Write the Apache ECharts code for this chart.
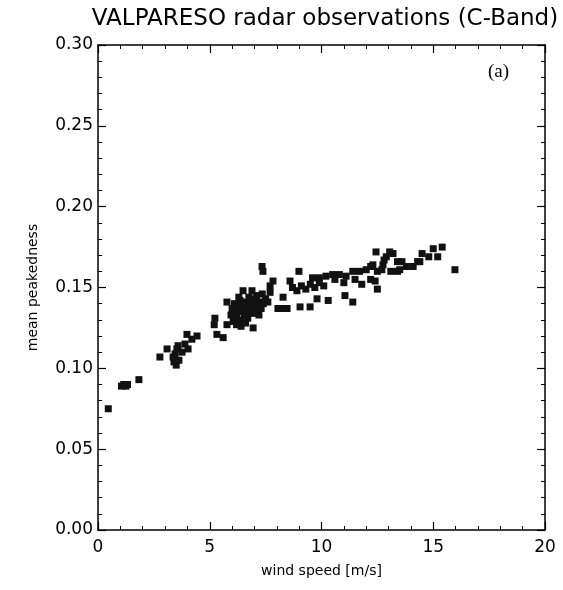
<!DOCTYPE html>
<html>
<head>
<meta charset="utf-8">
<script src="https://cdn.jsdelivr.net/npm/echarts@6/dist/echarts.min.js"></script>
<style>
html,body{margin:0;padding:0;background:#fff;}
#chart{width:563px;height:590px;}
</style>
</head>
<body>
<div id="chart"></div>
<script>
const titleText = "VALPARESO radar observations (C-Band)";
const xAxisName = "wind speed [m/s]";
const yAxisName = "mean peakedness";
const panelLabel = "(a)";

const windSpeed = [
  0.46,
  1.05, 1.15, 1.25, 1.32,
  1.83,
  2.77, 3.09,
  3.36, 3.45, 3.53, 3.58, 3.76, 3.89, 4.03, 3.40, 3.50, 3.62,
  3.98, 4.20, 4.43,
  5.23, 5.20, 5.32, 5.60, 5.77, 5.77,
  5.95, 6.00, 6.05, 6.10, 6.15, 6.20, 6.25, 6.30, 6.35, 6.40,
  6.45, 6.50, 6.55, 6.60, 6.65, 6.70, 6.75, 6.80, 6.85, 6.90,
  6.95, 7.00, 7.05, 7.10, 7.15, 7.20, 7.25, 7.30, 7.35, 7.40,
  7.50, 7.60, 7.70, 6.20, 6.40, 6.60, 6.30, 6.90,
  6.49, 6.89, 7.34, 7.38, 6.94, 7.83, 7.70,
  8.28, 8.05, 8.23, 8.46, 8.59, 8.99,
  8.70, 8.90, 9.10, 9.30, 9.50, 9.70, 9.90, 10.10,
  9.04, 9.49, 9.80, 10.30,
  9.60, 9.90, 10.20, 10.50, 10.80, 11.10, 11.40, 11.70,
  11.05, 11.40,
  12.00, 12.20, 12.30, 12.50, 12.70, 12.75,
  12.20, 12.40, 12.50, 12.80, 12.90, 12.44, 13.05, 13.20,
  13.10, 13.40, 13.50, 13.80, 14.10, 14.30, 14.40, 13.40, 13.60,
  14.50, 14.80, 15.00, 15.20, 15.40,
  15.97,
  11.80, 11.50, 10.60, 11.00
];
const peakedness = [
  0.075,
  0.089, 0.090, 0.089, 0.090,
  0.093,
  0.107, 0.112,
  0.107, 0.109, 0.112, 0.114, 0.110, 0.115, 0.112, 0.104, 0.102, 0.105,
  0.121, 0.118, 0.120,
  0.131, 0.127, 0.121, 0.119, 0.141, 0.127,
  0.133, 0.137, 0.129, 0.140, 0.134, 0.131, 0.138, 0.135, 0.142, 0.130,
  0.136, 0.139, 0.133, 0.141, 0.137, 0.131, 0.144, 0.135, 0.140, 0.138,
  0.134, 0.142, 0.136, 0.145, 0.139, 0.133, 0.141, 0.137, 0.146, 0.140,
  0.143, 0.141, 0.147, 0.127, 0.126, 0.128, 0.144, 0.143,
  0.148, 0.148, 0.163, 0.160, 0.125, 0.154, 0.151,
  0.144, 0.137, 0.137, 0.137, 0.154, 0.160,
  0.150, 0.148, 0.151, 0.149, 0.152, 0.150, 0.153, 0.151,
  0.138, 0.138, 0.143, 0.142,
  0.156, 0.156, 0.157, 0.158, 0.158, 0.157, 0.160, 0.160,
  0.145, 0.141,
  0.161, 0.163, 0.164, 0.160, 0.161, 0.164,
  0.155, 0.154, 0.149, 0.167, 0.169, 0.172, 0.172, 0.171,
  0.160, 0.160, 0.161, 0.163, 0.163, 0.166, 0.166, 0.166, 0.166,
  0.171, 0.169, 0.174, 0.169, 0.175,
  0.161,
  0.152, 0.155, 0.155, 0.153
];
const xTicks = [0, 5, 10, 15, 20];
const yTicks = [0.00, 0.05, 0.10, 0.15, 0.20, 0.25, 0.30];

const points = windSpeed.map((x, i) => [x, peakedness[i]]);
const font = "DejaVu Sans";

const chart = echarts.init(document.getElementById('chart'), null, {renderer: 'canvas'});

function axisBase(extra) {
  return Object.assign({
    axisLine: {show: true, onZero: false, lineStyle: {color: '#000', width: 1.5}},
    axisTick: {show: true, inside: true, length: 8, lineStyle: {color: '#000', width: 1.2}},
    minorTick: {show: true, splitNumber: 5, length: 4, lineStyle: {color: '#000', width: 1}},
    splitLine: {show: false}
  }, extra);
}

chart.setOption({
  animation: false,
  backgroundColor: '#fff',
  title: {
    text: titleText,
    left: 320, top: 3, textAlign: 'center',
    textStyle: {fontFamily: font, fontSize: 23, fontWeight: 'normal', color: '#000'}
  },
  graphic: [{
    type: 'text', right: 54, top: 63,
    style: {text: panelLabel, font: '19px "Liberation Serif"', fill: '#000'}
  }],
  grid: {left: 98, right: 18, top: 45, bottom: 60, containLabel: false},
  xAxis: [
    axisBase({
      type: 'value', min: xTicks[0], max: xTicks[xTicks.length - 1], interval: 5,
      position: 'bottom',
      name: xAxisName, nameLocation: 'middle', nameGap: 34,
      nameTextStyle: {fontFamily: font, fontSize: 14, color: '#000'},
      axisLabel: {show: true, margin: 9, fontFamily: font, fontSize: 17, color: '#000',
        formatter: v => String(v)}
    }),
    axisBase({
      type: 'value', min: xTicks[0], max: xTicks[xTicks.length - 1], interval: 5,
      position: 'top', axisLabel: {show: false}
    })
  ],
  yAxis: [
    axisBase({
      type: 'value', min: yTicks[0], max: yTicks[yTicks.length - 1], interval: 0.05,
      position: 'left',
      name: yAxisName, nameLocation: 'middle', nameGap: 58,
      nameTextStyle: {fontFamily: font, fontSize: 14, color: '#000'},
      axisLabel: {show: true, margin: 5, fontFamily: font, fontSize: 17, color: '#000',
        formatter: v => v.toFixed(2)}
    }),
    axisBase({
      type: 'value', min: yTicks[0], max: yTicks[yTicks.length - 1], interval: 0.05,
      position: 'right', axisLabel: {show: false}
    })
  ],
  series: [{
    type: 'scatter',
    data: points,
    symbol: 'rect',
    symbolSize: 7,
    itemStyle: {color: '#111', opacity: 1}
  }]
});
</script>
</body>
</html>
